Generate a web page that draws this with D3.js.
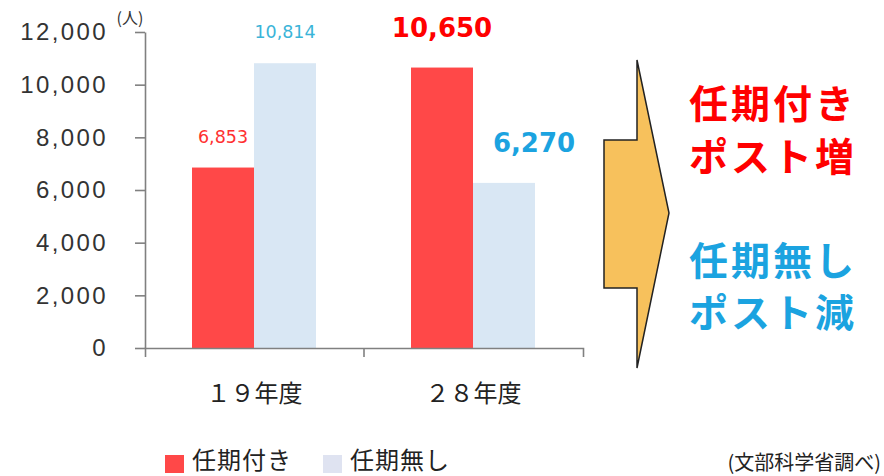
<!DOCTYPE html>
<html>
<head>
<meta charset="utf-8">
<script src="https://cdn.jsdelivr.net/npm/d3@7"></script>
<style>
  body { margin: 0; background: #fff; }
  svg { display: block; font-family: "DejaVu Sans", Verdana, sans-serif; }
  .jp { font-family: "Noto Sans CJK JP", sans-serif; }
</style>
</head>
<body>
<div id="chart-area"></div>
<script>
const years = ["１９年度", "２８年度"];
const seriesNames = ["任期付き", "任期無し"];
const withTerm = [6853, 10650];
const withoutTerm = [10814, 6270];
const yTicks = [0, 2000, 4000, 6000, 8000, 10000, 12000];
const calloutLines = ["任期付き", "ポスト増", "任期無し", "ポスト減"];

const width = 884, height = 476;
const colors = { bar: ["#ff4848", "#d9e7f4"], label: ["#ff3030", "#3ab4d8"], big: ["#ff0000", "#1ba3e0"] };

const svg = d3.select("#chart-area")
    .append("svg")
    .attr("width", width)
    .attr("height", height);

const x = d3.scaleBand().domain(years).range([145, 583]);
const xs = d3.scaleBand().domain(seriesNames).range([47, 171]);
const y = d3.scaleLinear().domain([0, 12000]).range([348, 32]);

// y axis
const yAxis = svg.append("g")
    .attr("transform", "translate(145,0)")
    .call(d3.axisLeft(y).tickValues(yTicks).tickSize(10).tickSizeOuter(0).tickPadding(27)
        .tickFormat(d3.format(",")));
yAxis.selectAll("path, line").attr("stroke", "#808080").attr("stroke-width", 1.6);
yAxis.selectAll("text").attr("font-size", 24).attr("letter-spacing", 2.4).attr("fill", "#333");

svg.append("text")
    .attr("class", "jp")
    .attr("x", 130).attr("y", 24)
    .attr("text-anchor", "middle")
    .attr("font-size", 16)
    .attr("fill", "#333")
    .text("(人)");

// bars
const series = [withTerm, withoutTerm];
const groups = svg.selectAll(".year")
    .data(years)
    .enter().append("g")
    .attr("class", "year")
    .attr("transform", d => `translate(${x(d)},0)`);

groups.selectAll("rect")
    .data((d, i) => series.map((s, k) => ({ name: seriesNames[k], value: s[i], k })))
    .enter().append("rect")
    .attr("x", d => xs(d.name))
    .attr("y", d => y(d.value))
    .attr("width", xs.bandwidth())
    .attr("height", d => y(0) - y(d.value))
    .attr("fill", d => colors.bar[d.k]);

groups.each(function(yr, i) {
    const big = i === 1;
    d3.select(this).selectAll(".val")
        .data(series.map((s, k) => ({ name: seriesNames[k], value: s[i], k })))
        .enter().append("text")
        .attr("class", "val")
        .attr("x", d => xs(d.name) + xs.bandwidth() / 2 + (big && d.k === 1 ? 30 : 0))
        .attr("y", d => y(d.value) - (big ? 31 : 25))
        .attr("text-anchor", "middle")
        .attr("font-size", big ? 26 : 17.5)
        .attr("font-weight", big ? "bold" : "normal")
        .attr("fill", d => big ? colors.big[d.k] : colors.label[d.k])
        .text(d => d3.format(",")(d.value));
});

// x axis
const xAxis = svg.append("g")
    .attr("transform", "translate(0,348)")
    .call(d3.axisBottom(x).tickSize(0).tickSizeOuter(9).tickPadding(37));
xAxis.select(".domain").attr("stroke", "#808080").attr("stroke-width", 1.6);
xAxis.selectAll("text").attr("class", "jp").attr("font-size", 24).attr("fill", "#222");
xAxis.selectAll(".mid")
    .data(years.slice(1))
    .enter().append("line")
    .attr("class", "mid")
    .attr("x1", d => x(d)).attr("x2", d => x(d))
    .attr("y1", 0).attr("y2", 9)
    .attr("stroke", "#808080").attr("stroke-width", 1.6);

// arrow
svg.append("path")
    .attr("d", "M637,60 L669,213 L637,368 L637,288 L604,288 L604,140 L637,140 Z")
    .attr("fill", "#f7c15c")
    .attr("stroke", "#222")
    .attr("stroke-width", 1.5)
    .attr("stroke-linejoin", "miter");

svg.selectAll(".callout")
    .data(calloutLines)
    .enter().append("text")
    .attr("class", "jp callout")
    .attr("x", 689)
    .attr("y", (d, i) => [118, 171, 275, 327][i])
    .attr("font-size", 39)
    .attr("letter-spacing", 3)
    .attr("font-weight", "bold")
    .attr("fill", (d, i) => i < 2 ? colors.big[0] : colors.big[1])
    .text(d => d);

// legend
const legend = svg.append("g").attr("class", "legend");
const legendX = [165, 323];
legend.selectAll("rect")
    .data(seriesNames)
    .enter().append("rect")
    .attr("x", (d, i) => legendX[i])
    .attr("y", 455)
    .attr("width", 19).attr("height", 18)
    .attr("fill", (d, i) => i === 0 ? colors.bar[0] : "#dfe3f1");
legend.selectAll("text")
    .data(seriesNames)
    .enter().append("text")
    .attr("class", "jp")
    .attr("x", (d, i) => legendX[i] + 27)
    .attr("y", 469)
    .attr("font-size", 24)
    .attr("letter-spacing", 1)
    .attr("fill", "#222")
    .text(d => d);

svg.append("text")
    .attr("class", "jp")
    .attr("x", 881).attr("y", 470)
    .attr("text-anchor", "end")
    .attr("font-size", 20)
    .attr("fill", "#222")
    .text("(文部科学省調べ)");
</script>
</body>
</html>
